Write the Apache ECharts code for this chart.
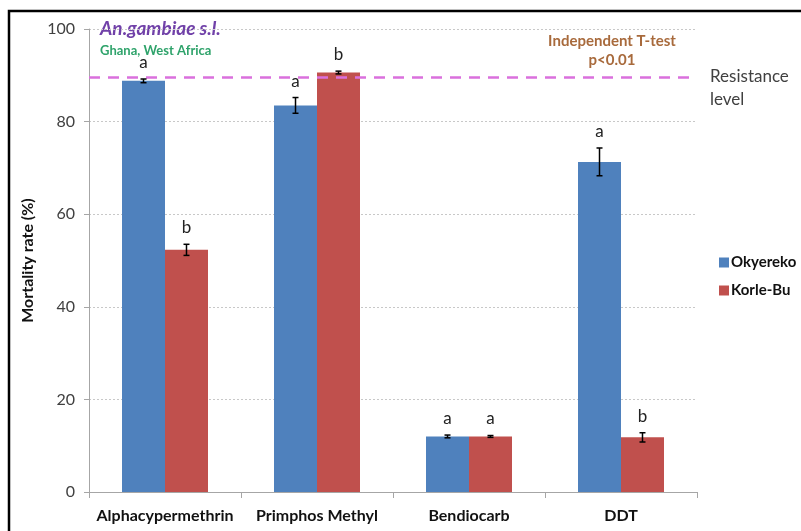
<!DOCTYPE html>
<html>
<head>
<meta charset="utf-8">
<script src="https://cdn.jsdelivr.net/npm/echarts@6/dist/echarts.min.js"></script>
<style>html,body{margin:0;padding:0;background:#fff}#c{width:801px;height:531px}</style>
</head>
<body>
<div id="c"></div>
<script>
const categories = ['Alphacypermethrin', 'Primphos Methyl', 'Bendiocarb', 'DDT'];
const seriesNames = ['Okyereko', 'Korle-Bu'];
const okyereko = [88.8, 83.5, 12.0, 71.3];
const okyerekoErr = [0.4, 1.7, 0.3, 3.0];
const korleBu = [52.3, 90.6, 12.0, 11.8];
const korleBuErr = [1.2, 0.3, 0.2, 1.0];
const okyerekoSig = ['a', 'a', 'a', 'a'];
const korleBuSig = ['b', 'b', 'a', 'b'];
const resistanceLevel = 89.5;
const yTicks = [0, 20, 40, 60, 80, 100];

const FONT = 'Lato, "Open Sans", sans-serif';
const chart = echarts.init(document.getElementById('c'), null, {renderer: 'canvas'});

function errSeries(vals, errs, sig, dir) {
  return {
    type: 'custom',
    z: 10,
    silent: true,
    data: vals.map((v, i) => [i, v, errs[i]]),
    renderItem: function (params, api) {
      const i = api.value(0), v = api.value(1), e = api.value(2);
      const band = api.size([1, 0])[0];
      const off = band * 0.1414 * dir;
      const top = api.coord([i, v + e]);
      const bot = api.coord([i, v - e]);
      const x = top[0] + off;
      const cap = 3;
      return {
        type: 'group',
        children: [
          {type: 'line', shape: {x1: x, y1: top[1], x2: x, y2: bot[1]}, style: {stroke: '#000', lineWidth: 1.5}},
          {type: 'line', shape: {x1: x - cap, y1: top[1], x2: x + cap, y2: top[1]}, style: {stroke: '#000', lineWidth: 1.5}},
          {type: 'line', shape: {x1: x - cap, y1: bot[1], x2: x + cap, y2: bot[1]}, style: {stroke: '#000', lineWidth: 1.5}},
          {type: 'text', style: {text: sig[i], x: x, y: top[1] - 8, align: 'center', verticalAlign: 'bottom',
            fill: '#222', font: '17px ' + FONT}}
        ]
      };
    }
  };
}

const option = {
  backgroundColor: '#fff',
  animation: false,
  grid: {left: 89, right: 104, top: 29, bottom: 39, containLabel: false},
  legend: {
    orient: 'vertical', left: 714, top: 250, itemWidth: 10, itemHeight: 10, itemGap: 13,
    icon: 'rect', data: seriesNames,
    textStyle: {fontFamily: FONT, fontWeight: 'bold', fontSize: 15, color: '#111', padding: [0, 0, 0, -3]}
  },
  xAxis: {
    type: 'category', data: categories,
    axisLine: {lineStyle: {color: '#a6a6a6', width: 1}},
    axisTick: {show: true, length: 6, lineStyle: {color: '#a6a6a6'}},
    axisLabel: {interval: 0, fontFamily: FONT, fontWeight: 'bold', fontSize: 16, color: '#111', margin: 16}
  },
  yAxis: {
    type: 'value', min: 0, max: 100, interval: 20,
    name: 'Mortality rate (%)', nameLocation: 'middle', nameGap: 46, nameRotate: 90,
    nameTextStyle: {fontFamily: FONT, fontWeight: 'bold', fontSize: 16, color: '#111'},
    axisLine: {show: true, lineStyle: {color: '#a6a6a6'}},
    axisTick: {show: true, length: 5, lineStyle: {color: '#a6a6a6'}},
    axisLabel: {fontFamily: FONT, fontSize: 16, color: '#404040', margin: 14,
      formatter: v => yTicks.includes(v) ? String(v) : ''},
    splitLine: {show: true, lineStyle: {color: '#c8c8c8', type: [2, 2], width: 1}}
  },
  series: [
    {
      name: seriesNames[0], type: 'bar', data: okyereko, barWidth: 43, barGap: '0%',
      itemStyle: {color: '#4F81BD'},
      markLine: {
        silent: true, symbol: 'none',
        lineStyle: {color: '#DA70DD', type: [11, 8], width: 2.5},
        label: {show: false},
        data: [{yAxis: resistanceLevel}]
      }
    },
    {
      name: seriesNames[1], type: 'bar', data: korleBu, barWidth: 43, barGap: '0%',
      itemStyle: {color: '#C0504D'}
    },
    errSeries(okyereko, okyerekoErr, okyerekoSig, -1),
    errSeries(korleBu, korleBuErr, korleBuSig, 1)
  ],
  graphic: [
    {type: 'rect', shape: {x: 9, y: 11, width: 900, height: 600}, style: {fill: 'none', stroke: '#000', lineWidth: 2.5}, silent: true},
    {type: 'text', left: 100, top: 19, style: {text: 'An.gambiae s.l.', font: 'italic bold 19px ' + FONT, fill: '#7040A8'}},
    {type: 'text', left: 100, top: 44, style: {text: 'Ghana, West Africa', font: 'bold 13px ' + FONT, fill: '#2FA36B'}},
    {type: 'text', x: 612, y: 34, style: {text: 'Independent T-test', font: 'bold 15px ' + FONT, fill: '#A86A3C', align: 'center'}},
    {type: 'text', x: 612, y: 53, style: {text: 'p<0.01', font: 'bold 15px ' + FONT, fill: '#A86A3C', align: 'center'}},
    {type: 'text', x: 710, y: 68, style: {text: 'Resistance', font: '17px ' + FONT, fill: '#404040'}},
    {type: 'text', x: 710, y: 91, style: {text: 'level', font: '17px ' + FONT, fill: '#404040'}}
  ]
};
chart.setOption(option);
</script>
</body>
</html>
